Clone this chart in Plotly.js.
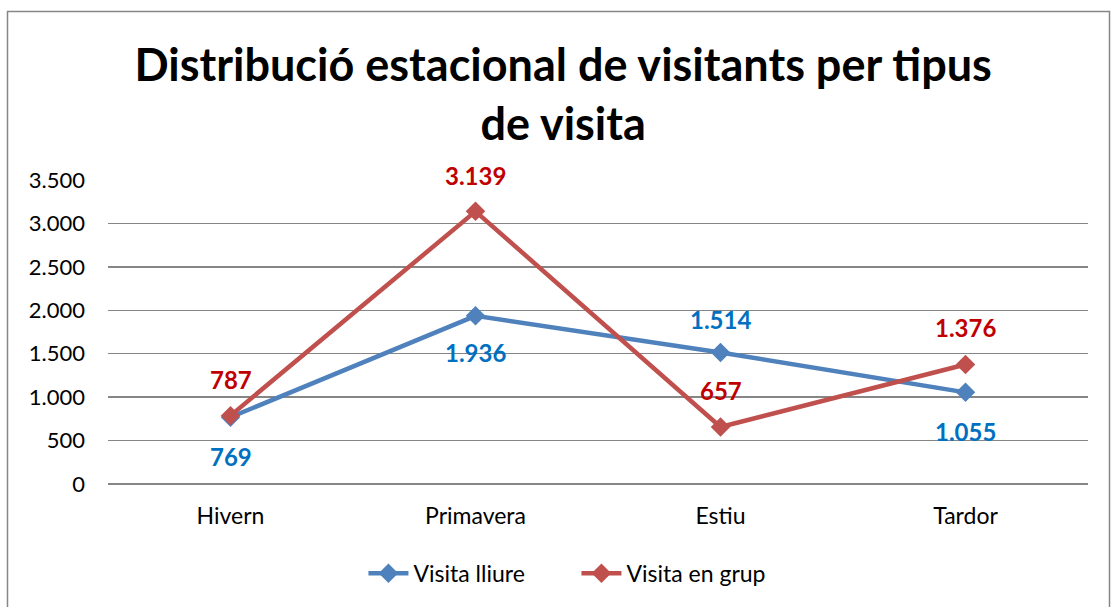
<!DOCTYPE html>
<html><head><meta charset="utf-8">
<script src="https://cdn.plot.ly/plotly-3.0.1.min.js"></script>
<style>body{margin:0;padding:0;background:#fff}#chart{width:1113px;height:607px}</style>
</head><body><div id="chart"></div>
<script>
const categories = ["Hivern", "Primavera", "Estiu", "Tardor"];
const visitaLliure = [769, 1936, 1514, 1055];
const visitaGrup = [787, 3139, 657, 1376];
const lliureLabelShift = [-39, -37, 33, -39];
const grupLabelShift = [36, 36, 36, 37];
const yTickVals = [0, 500, 1000, 1500, 2000, 2500, 3000, 3500];
const yTickText = ["0", "500", "1.000", "1.500", "2.000", "2.500", "3.000", "3.500"];

const fmt = v => v >= 1000 ? Math.floor(v/1000) + "." + String(v%1000).padStart(3,"0") : String(v);
const FONT = "Lato, 'Open Sans', sans-serif";

const traces = [
  {x: categories, y: visitaLliure, name: "Visita lliure", mode: "lines+markers",
   line: {color: "#4F81BD", width: 4.5}, marker: {symbol: "diamond", size: 15, color: "#4F81BD"}},
  {x: categories, y: visitaGrup, name: "Visita en grup", mode: "lines+markers",
   line: {color: "#C0504D", width: 4.5}, marker: {symbol: "diamond", size: 15, color: "#C0504D"}}
];

const annotations = [];
categories.forEach((c, i) => {
  annotations.push({x: c, y: visitaLliure[i], text: fmt(visitaLliure[i]), showarrow: false,
    yshift: lliureLabelShift[i], font: {family: FONT, size: 24, color: "#0070C0", weight: "bold"}});
  annotations.push({x: c, y: visitaGrup[i], text: fmt(visitaGrup[i]), showarrow: false,
    yshift: grupLabelShift[i], font: {family: FONT, size: 24, color: "#C00000", weight: "bold"}});
});

const W = 1113, H = 607, L = 108, R = 25, T = 180, B = 121;
const pw = W - L - R, ph = H - T - B;
const shapes = [{type: "rect", xref: "paper", yref: "paper",
  x0: (7.5 - L)/pw, x1: (1109.5 - L)/pw, y0: (H - B - 620)/ph, y1: (H - B - 10.5)/ph,
  line: {color: "#868686", width: 1.5}, fillcolor: "rgba(0,0,0,0)", layer: "below"}];

const layout = {
  width: W, height: H,
  margin: {l: L, r: R, t: T, b: B},
  paper_bgcolor: "#fff", plot_bgcolor: "#fff",
  font: {family: FONT, color: "#000"},
  title: {text: "<b>Distribució estacional de visitants per tipus<br>de visita</b>",
    font: {family: FONT, size: 45, color: "#000"}, x: 0.506, xanchor: "center",
    yref: "container", y: 1 - 81/607, yanchor: "middle"},
  xaxis: {type: "category", range: [-0.5, 3.5], showgrid: false, showline: false, zeroline: false,
    ticks: "", tickfont: {size: 23, family: FONT}, ticklabelstandoff: 16},
  yaxis: {range: [0, 3500], tickvals: yTickVals, ticktext: yTickText, showgrid: true,
    gridcolor: "#868686", gridwidth: 1.3, zeroline: true, zerolinecolor: "#868686", zerolinewidth: 1.3,
    showline: false, ticks: "", tickfont: {size: 22, family: FONT}, ticklabelstandoff: 22},
  showlegend: true,
  legend: {orientation: "h", x: 0.478, xanchor: "center", y: (486 - 576)/ph, yanchor: "middle",
    font: {size: 23, family: FONT}, itemwidth: 40, entrywidth: 158, traceorder: "normal"},
  annotations: annotations, shapes: shapes
};

Plotly.newPlot("chart", traces, layout, {displayModeBar: false, staticPlot: true});
</script></body></html>
